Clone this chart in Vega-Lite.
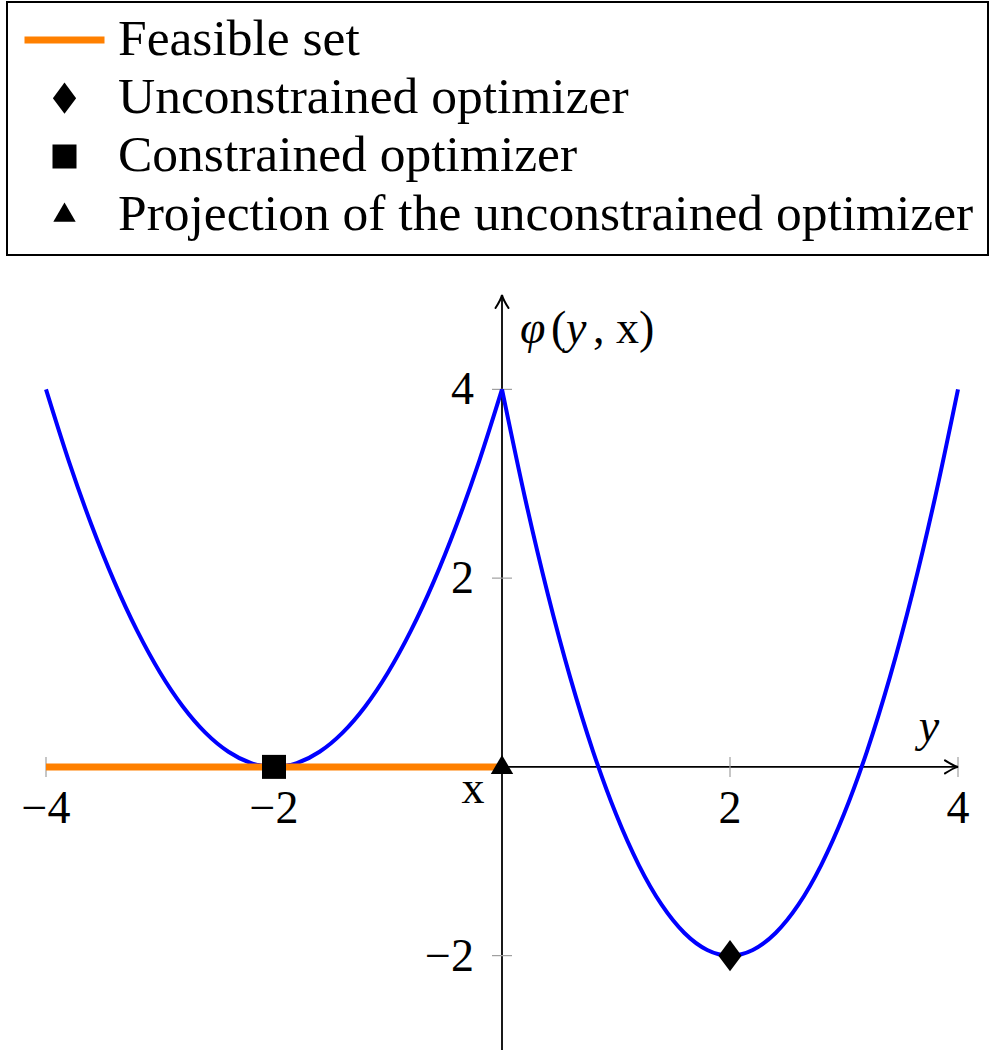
{
  "$schema": "https://vega.github.io/schema/vega-lite/v6.json",
  "width": 912,
  "height": 755,
  "autosize": {"type": "none"},
  "padding": {"left": 46, "top": 295, "right": 41, "bottom": 1},
  "background": "white",
  "config": {
    "view": {"stroke": null},
    "text": {"font": "'Liberation Serif', 'Times New Roman', 'DejaVu Serif', serif", "fontSize": 46, "color": "black"},
    "legend": {"strokeWidth": 2}
  },
  "datasets": {
    "vaxis": [{"t": 0, "lo": -3, "hi": 5}],
    "haxis": [{"phi": 0, "lo": -4, "hi": 4}],
    "xticks": [{"t": -4, "label": "−4"}, {"t": -2, "label": "−2"}, {"t": 2, "label": "2"}, {"t": 4, "label": "4"}],
    "yticks": [{"v": -2, "label": "−2"}, {"v": 2, "label": "2"}, {"v": 4, "label": "4"}],
    "curve": [
      {"t": -4.0, "phi": 4.0, "seg": "L"}, {"t": -3.8, "phi": 3.24, "seg": "L"}, {"t": -3.6, "phi": 2.56, "seg": "L"},
      {"t": -3.4, "phi": 1.96, "seg": "L"}, {"t": -3.2, "phi": 1.44, "seg": "L"}, {"t": -3.0, "phi": 1.0, "seg": "L"},
      {"t": -2.8, "phi": 0.64, "seg": "L"}, {"t": -2.6, "phi": 0.36, "seg": "L"}, {"t": -2.4, "phi": 0.16, "seg": "L"},
      {"t": -2.2, "phi": 0.04, "seg": "L"}, {"t": -2.0, "phi": 0.0, "seg": "L"}, {"t": -1.8, "phi": 0.04, "seg": "L"},
      {"t": -1.6, "phi": 0.16, "seg": "L"}, {"t": -1.4, "phi": 0.36, "seg": "L"}, {"t": -1.2, "phi": 0.64, "seg": "L"},
      {"t": -1.0, "phi": 1.0, "seg": "L"}, {"t": -0.8, "phi": 1.44, "seg": "L"}, {"t": -0.6, "phi": 1.96, "seg": "L"},
      {"t": -0.4, "phi": 2.56, "seg": "L"}, {"t": -0.2, "phi": 3.24, "seg": "L"}, {"t": 0.0, "phi": 4.0, "seg": "L"},
      {"t": 0.0, "phi": 4.0, "seg": "R"}, {"t": 0.2, "phi": 2.86, "seg": "R"}, {"t": 0.4, "phi": 1.84, "seg": "R"},
      {"t": 0.6, "phi": 0.94, "seg": "R"}, {"t": 0.8, "phi": 0.16, "seg": "R"}, {"t": 1.0, "phi": -0.5, "seg": "R"},
      {"t": 1.2, "phi": -1.04, "seg": "R"}, {"t": 1.4, "phi": -1.46, "seg": "R"}, {"t": 1.6, "phi": -1.76, "seg": "R"},
      {"t": 1.8, "phi": -1.94, "seg": "R"}, {"t": 2.0, "phi": -2.0, "seg": "R"}, {"t": 2.2, "phi": -1.94, "seg": "R"},
      {"t": 2.4, "phi": -1.76, "seg": "R"}, {"t": 2.6, "phi": -1.46, "seg": "R"}, {"t": 2.8, "phi": -1.04, "seg": "R"},
      {"t": 3.0, "phi": -0.5, "seg": "R"}, {"t": 3.2, "phi": 0.16, "seg": "R"}, {"t": 3.4, "phi": 0.94, "seg": "R"},
      {"t": 3.6, "phi": 1.84, "seg": "R"}, {"t": 3.8, "phi": 2.86, "seg": "R"}, {"t": 4.0, "phi": 4.0, "seg": "R"}
    ],
    "feasible": [{"lo": -4, "hi": 0, "phi": 0}],
    "arrowRight": [{"t": 4, "phi": 0}],
    "arrowUp": [{"t": 0, "phi": 5}],
    "points": [
      {"t": 2, "phi": -2, "kind": "Unconstrained optimizer"},
      {"t": -2, "phi": 0, "kind": "Constrained optimizer"},
      {"t": 0, "phi": 0, "kind": "Projection of the unconstrained optimizer"}
    ],
    "origin": [{"t": 0, "phi": 0}],
    "top": [{"t": 0, "phi": 5}],
    "right": [{"t": 4, "phi": 0}]
  },
  "layer": [
    {
      "data": {"name": "vaxis"},
      "mark": {"type": "rule", "color": "black", "strokeWidth": 1.8},
      "encoding": {
        "x": {"field": "t", "type": "quantitative", "scale": {"domain": [-4, 4], "nice": false, "zero": false}, "axis": null},
        "y": {"field": "lo", "type": "quantitative", "scale": {"domain": [-3, 5], "nice": false, "zero": false}, "axis": null},
        "y2": {"field": "hi"}
      }
    },
    {
      "data": {"name": "haxis"},
      "mark": {"type": "rule", "color": "black", "strokeWidth": 1.8},
      "encoding": {
        "x": {"field": "lo", "type": "quantitative", "scale": {"domain": [-4, 4], "nice": false, "zero": false}, "axis": null},
        "x2": {"field": "hi"},
        "y": {"field": "phi", "type": "quantitative", "scale": {"domain": [-3, 5], "nice": false, "zero": false}, "axis": null}
      }
    },
    {
      "data": {"name": "xticks"},
      "mark": {"type": "tick", "orient": "vertical", "size": 20, "thickness": 1.2, "color": "#a0a0a0", "opacity": 1},
      "encoding": {
        "x": {"field": "t", "type": "quantitative", "scale": {"domain": [-4, 4], "nice": false, "zero": false}, "axis": null},
        "y": {"datum": 0, "type": "quantitative", "scale": {"domain": [-3, 5], "nice": false, "zero": false}, "axis": null}
      }
    },
    {
      "data": {"name": "yticks"},
      "mark": {"type": "tick", "orient": "horizontal", "size": 20, "thickness": 1.2, "color": "#a0a0a0", "opacity": 1},
      "encoding": {
        "x": {"datum": 0, "type": "quantitative", "scale": {"domain": [-4, 4], "nice": false, "zero": false}, "axis": null},
        "y": {"field": "v", "type": "quantitative", "scale": {"domain": [-3, 5], "nice": false, "zero": false}, "axis": null}
      }
    },
    {
      "data": {"name": "curve"},
      "mark": {"type": "line", "color": "#0000ff", "strokeWidth": 4, "interpolate": "monotone"},
      "encoding": {
        "x": {"field": "t", "type": "quantitative", "scale": {"domain": [-4, 4], "nice": false, "zero": false}, "axis": null},
        "y": {"field": "phi", "type": "quantitative", "scale": {"domain": [-3, 5], "nice": false, "zero": false}, "axis": null},
        "detail": {"field": "seg", "type": "nominal"}
      }
    },
    {
      "data": {"name": "feasible"},
      "mark": {"type": "rule", "color": "#ff8000", "strokeWidth": 7},
      "encoding": {
        "x": {"field": "lo", "type": "quantitative", "scale": {"domain": [-4, 4], "nice": false, "zero": false}, "axis": null},
        "x2": {"field": "hi"},
        "y": {"field": "phi", "type": "quantitative", "scale": {"domain": [-3, 5], "nice": false, "zero": false}, "axis": null}
      }
    },
    {
      "data": {"name": "arrowRight"},
      "mark": {"type": "point", "shape": "M-1,-0.5Q-0.35,-0.08 0,0Q-0.35,0.08 -1,0.5", "size": 676, "filled": false, "stroke": "black", "strokeWidth": 2, "opacity": 1, "strokeCap": "round"},
      "encoding": {
        "x": {"field": "t", "type": "quantitative", "scale": {"domain": [-4, 4], "nice": false, "zero": false}, "axis": null},
        "y": {"field": "phi", "type": "quantitative", "scale": {"domain": [-3, 5], "nice": false, "zero": false}, "axis": null}
      }
    },
    {
      "data": {"name": "arrowUp"},
      "mark": {"type": "point", "shape": "M-0.5,1Q-0.08,0.35 0,0Q0.08,0.35 0.5,1", "size": 676, "filled": false, "stroke": "black", "strokeWidth": 2, "opacity": 1, "strokeCap": "round"},
      "encoding": {
        "x": {"field": "t", "type": "quantitative", "scale": {"domain": [-4, 4], "nice": false, "zero": false}, "axis": null},
        "y": {"field": "phi", "type": "quantitative", "scale": {"domain": [-3, 5], "nice": false, "zero": false}, "axis": null}
      }
    },
    {
      "data": {"name": "points"},
      "mark": {"type": "point", "filled": true, "opacity": 1, "size": 6400, "strokeWidth": 7},
      "encoding": {
        "x": {"field": "t", "type": "quantitative", "scale": {"domain": [-4, 4], "nice": false, "zero": false}, "axis": null},
        "y": {"field": "phi", "type": "quantitative", "scale": {"domain": [-3, 5], "nice": false, "zero": false}, "axis": null},
        "shape": {
          "field": "kind", "type": "nominal",
          "scale": {
            "domain": ["Feasible set", "Unconstrained optimizer", "Constrained optimizer", "Projection of the unconstrained optimizer"],
            "range": ["M-1,0L1,0", "M0,-0.39L0.29,0L0,0.39L-0.29,0Z", "M-0.3,-0.3L0.3,-0.3L0.3,0.3L-0.3,0.3Z", "M0,-0.3L0.28,0.18L-0.28,0.18Z"]
          },
          "legend": {"title": null, "orient": "none", "legendX": -39, "legendY": -293, "labelFont": "'Liberation Serif', 'Times New Roman', 'DejaVu Serif', serif", "labelFontSize": 51.5, "labelColor": "black", "labelLimit": 2000, "labelOffset": 10, "symbolStrokeWidth": 7, "symbolSize": 6400, "symbolOpacity": 1, "rowPadding": 6.2, "clipHeight": 48, "padding": 14, "strokeColor": "black", "fillColor": "white"}
        },
        "fill": {
          "field": "kind", "type": "nominal",
          "scale": {
            "domain": ["Feasible set", "Unconstrained optimizer", "Constrained optimizer", "Projection of the unconstrained optimizer"],
            "range": ["#ff8000", "#000000", "#000000", "#000000"]
          },
          "legend": {"title": null, "orient": "none", "legendX": -39, "legendY": -293, "labelFont": "'Liberation Serif', 'Times New Roman', 'DejaVu Serif', serif", "labelFontSize": 51.5, "labelColor": "black", "labelLimit": 2000, "labelOffset": 10, "symbolStrokeWidth": 7, "symbolSize": 6400, "symbolOpacity": 1, "rowPadding": 6.2, "clipHeight": 48, "padding": 14, "strokeColor": "black", "fillColor": "white"}
        },
        "stroke": {
          "field": "kind", "type": "nominal",
          "scale": {
            "domain": ["Feasible set", "Unconstrained optimizer", "Constrained optimizer", "Projection of the unconstrained optimizer"],
            "range": ["#ff8000", "transparent", "transparent", "transparent"]
          },
          "legend": {"title": null, "orient": "none", "legendX": -39, "legendY": -293, "labelFont": "'Liberation Serif', 'Times New Roman', 'DejaVu Serif', serif", "labelFontSize": 51.5, "labelColor": "black", "labelLimit": 2000, "labelOffset": 10, "symbolStrokeWidth": 7, "symbolSize": 6400, "symbolOpacity": 1, "rowPadding": 6.2, "clipHeight": 48, "padding": 14, "strokeColor": "black", "fillColor": "white"}
        }
      }
    },
    {
      "data": {"name": "xticks"},
      "mark": {"type": "text", "align": "center", "baseline": "alphabetic", "dy": 56},
      "encoding": {
        "x": {"field": "t", "type": "quantitative", "scale": {"domain": [-4, 4], "nice": false, "zero": false}, "axis": null},
        "y": {"datum": 0, "type": "quantitative", "scale": {"domain": [-3, 5], "nice": false, "zero": false}, "axis": null},
        "text": {"field": "label"}
      }
    },
    {
      "data": {"name": "yticks"},
      "mark": {"type": "text", "align": "right", "baseline": "alphabetic", "dx": -28, "dy": 15},
      "encoding": {
        "x": {"datum": 0, "type": "quantitative", "scale": {"domain": [-4, 4], "nice": false, "zero": false}, "axis": null},
        "y": {"field": "v", "type": "quantitative", "scale": {"domain": [-3, 5], "nice": false, "zero": false}, "axis": null},
        "text": {"field": "label"}
      }
    },
    {
      "data": {"name": "origin"},
      "mark": {"type": "text", "align": "center", "baseline": "alphabetic", "dx": -29, "dy": 36, "text": "x"},
      "encoding": {
        "x": {"field": "t", "type": "quantitative", "scale": {"domain": [-4, 4], "nice": false, "zero": false}, "axis": null},
        "y": {"field": "phi", "type": "quantitative", "scale": {"domain": [-3, 5], "nice": false, "zero": false}, "axis": null}
      }
    },
    {
      "data": {"name": "right"},
      "mark": {"type": "text", "align": "center", "baseline": "alphabetic", "dx": -29, "dy": -26, "text": "y", "fontStyle": "italic"},
      "encoding": {
        "x": {"field": "t", "type": "quantitative", "scale": {"domain": [-4, 4], "nice": false, "zero": false}, "axis": null},
        "y": {"field": "phi", "type": "quantitative", "scale": {"domain": [-3, 5], "nice": false, "zero": false}, "axis": null}
      }
    },
    {
      "data": {"name": "top"},
      "mark": {"type": "text", "align": "left", "baseline": "alphabetic", "dx": 18, "dy": 48, "text": "φ", "fontStyle": "italic"},
      "encoding": {
        "x": {"field": "t", "type": "quantitative", "scale": {"domain": [-4, 4], "nice": false, "zero": false}, "axis": null},
        "y": {"field": "phi", "type": "quantitative", "scale": {"domain": [-3, 5], "nice": false, "zero": false}, "axis": null}
      }
    },
    {
      "data": {"name": "top"},
      "mark": {"type": "text", "align": "left", "baseline": "alphabetic", "dx": 49, "dy": 48, "text": "("},
      "encoding": {
        "x": {"field": "t", "type": "quantitative", "scale": {"domain": [-4, 4], "nice": false, "zero": false}, "axis": null},
        "y": {"field": "phi", "type": "quantitative", "scale": {"domain": [-3, 5], "nice": false, "zero": false}, "axis": null}
      }
    },
    {
      "data": {"name": "top"},
      "mark": {"type": "text", "align": "left", "baseline": "alphabetic", "dx": 64, "dy": 48, "text": "y", "fontStyle": "italic"},
      "encoding": {
        "x": {"field": "t", "type": "quantitative", "scale": {"domain": [-4, 4], "nice": false, "zero": false}, "axis": null},
        "y": {"field": "phi", "type": "quantitative", "scale": {"domain": [-3, 5], "nice": false, "zero": false}, "axis": null}
      }
    },
    {
      "data": {"name": "top"},
      "mark": {"type": "text", "align": "left", "baseline": "alphabetic", "dx": 91, "dy": 48, "text": ", x)"},
      "encoding": {
        "x": {"field": "t", "type": "quantitative", "scale": {"domain": [-4, 4], "nice": false, "zero": false}, "axis": null},
        "y": {"field": "phi", "type": "quantitative", "scale": {"domain": [-3, 5], "nice": false, "zero": false}, "axis": null}
      }
    }
  ]
}
